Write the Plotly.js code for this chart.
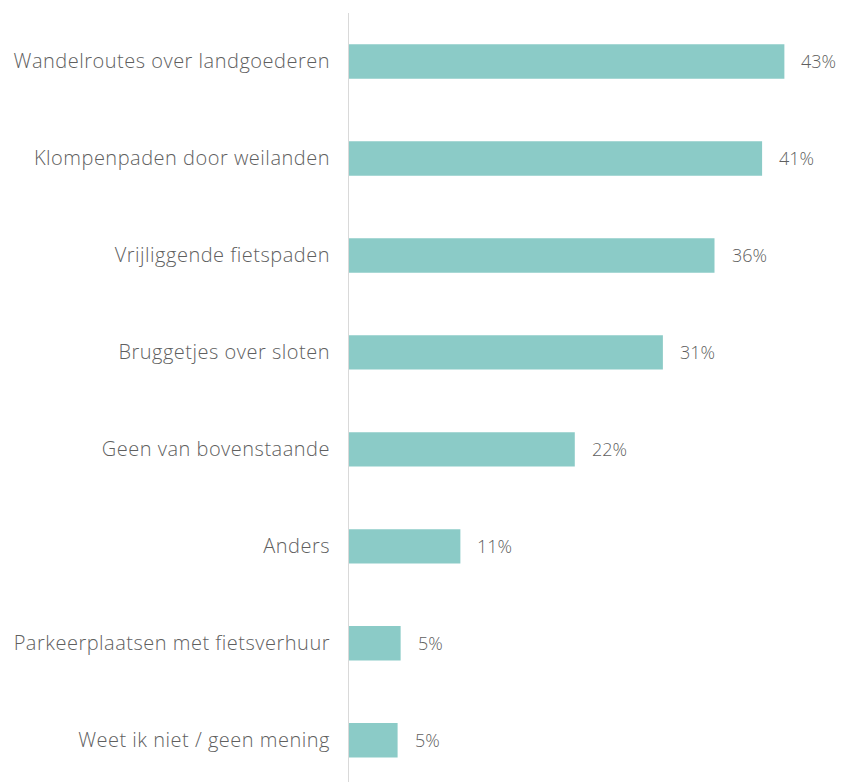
<!DOCTYPE html>
<html>
<head>
<meta charset="utf-8">
<script src="https://cdn.plot.ly/plotly-3.0.1.min.js"></script>
<style>
html,body{margin:0;padding:0;background:#fff;}
#chart{width:843px;height:782px;}
#chart .ytick text{letter-spacing:0.5px;}
</style>
</head>
<body>
<div id="chart"></div>
<script>
const categories = [
  "Wandelroutes over landgoederen",
  "Klompenpaden door weilanden",
  "Vrijliggende fietspaden",
  "Bruggetjes over sloten",
  "Geen van bovenstaande",
  "Anders",
  "Parkeerplaatsen met fietsverhuur",
  "Weet ik niet / geen mening"
];
const values = [43.0, 40.8, 36.1, 31.0, 22.3, 11.0, 5.1, 4.8];
const labels = ["43%", "41%", "36%", "31%", "22%", "11%", "5%", "5%"];

const fontFamily = "'Open Sans', Lato, sans-serif";
const textColor = "#5f5f5f";

const trace = {
  type: "bar",
  orientation: "h",
  x: values,
  y: categories,
  marker: {color: "#8bcbc7"},
  hoverinfo: "skip"
};

const annotations = categories.map((c, i) => ({
  x: values[i], y: c, xref: "x", yref: "y",
  text: labels[i], showarrow: false,
  xanchor: "left", xshift: 15,
  font: {family: fontFamily, size: 18, weight: 300, color: textColor}
}));

const layout = {
  width: 843, height: 782,
  margin: {l: 349, r: 8, t: 13, b: 0},
  paper_bgcolor: "#ffffff", plot_bgcolor: "#ffffff",
  showlegend: false,
  bargap: 0.645,
  xaxis: {range: [0, 48], visible: false, fixedrange: true},
  yaxis: {
    type: "category",
    range: [7.43, -0.5],
    showline: true, linecolor: "#d9d9d9", linewidth: 1,
    showgrid: false, zeroline: false, ticks: "",
    ticklabelstandoff: 14,
    tickfont: {family: fontFamily, size: 20, weight: 300, color: textColor},
    fixedrange: true
  },
  annotations: annotations
};

Plotly.newPlot("chart", [trace], layout, {displayModeBar: false, staticPlot: true});
</script>
</body>
</html>
